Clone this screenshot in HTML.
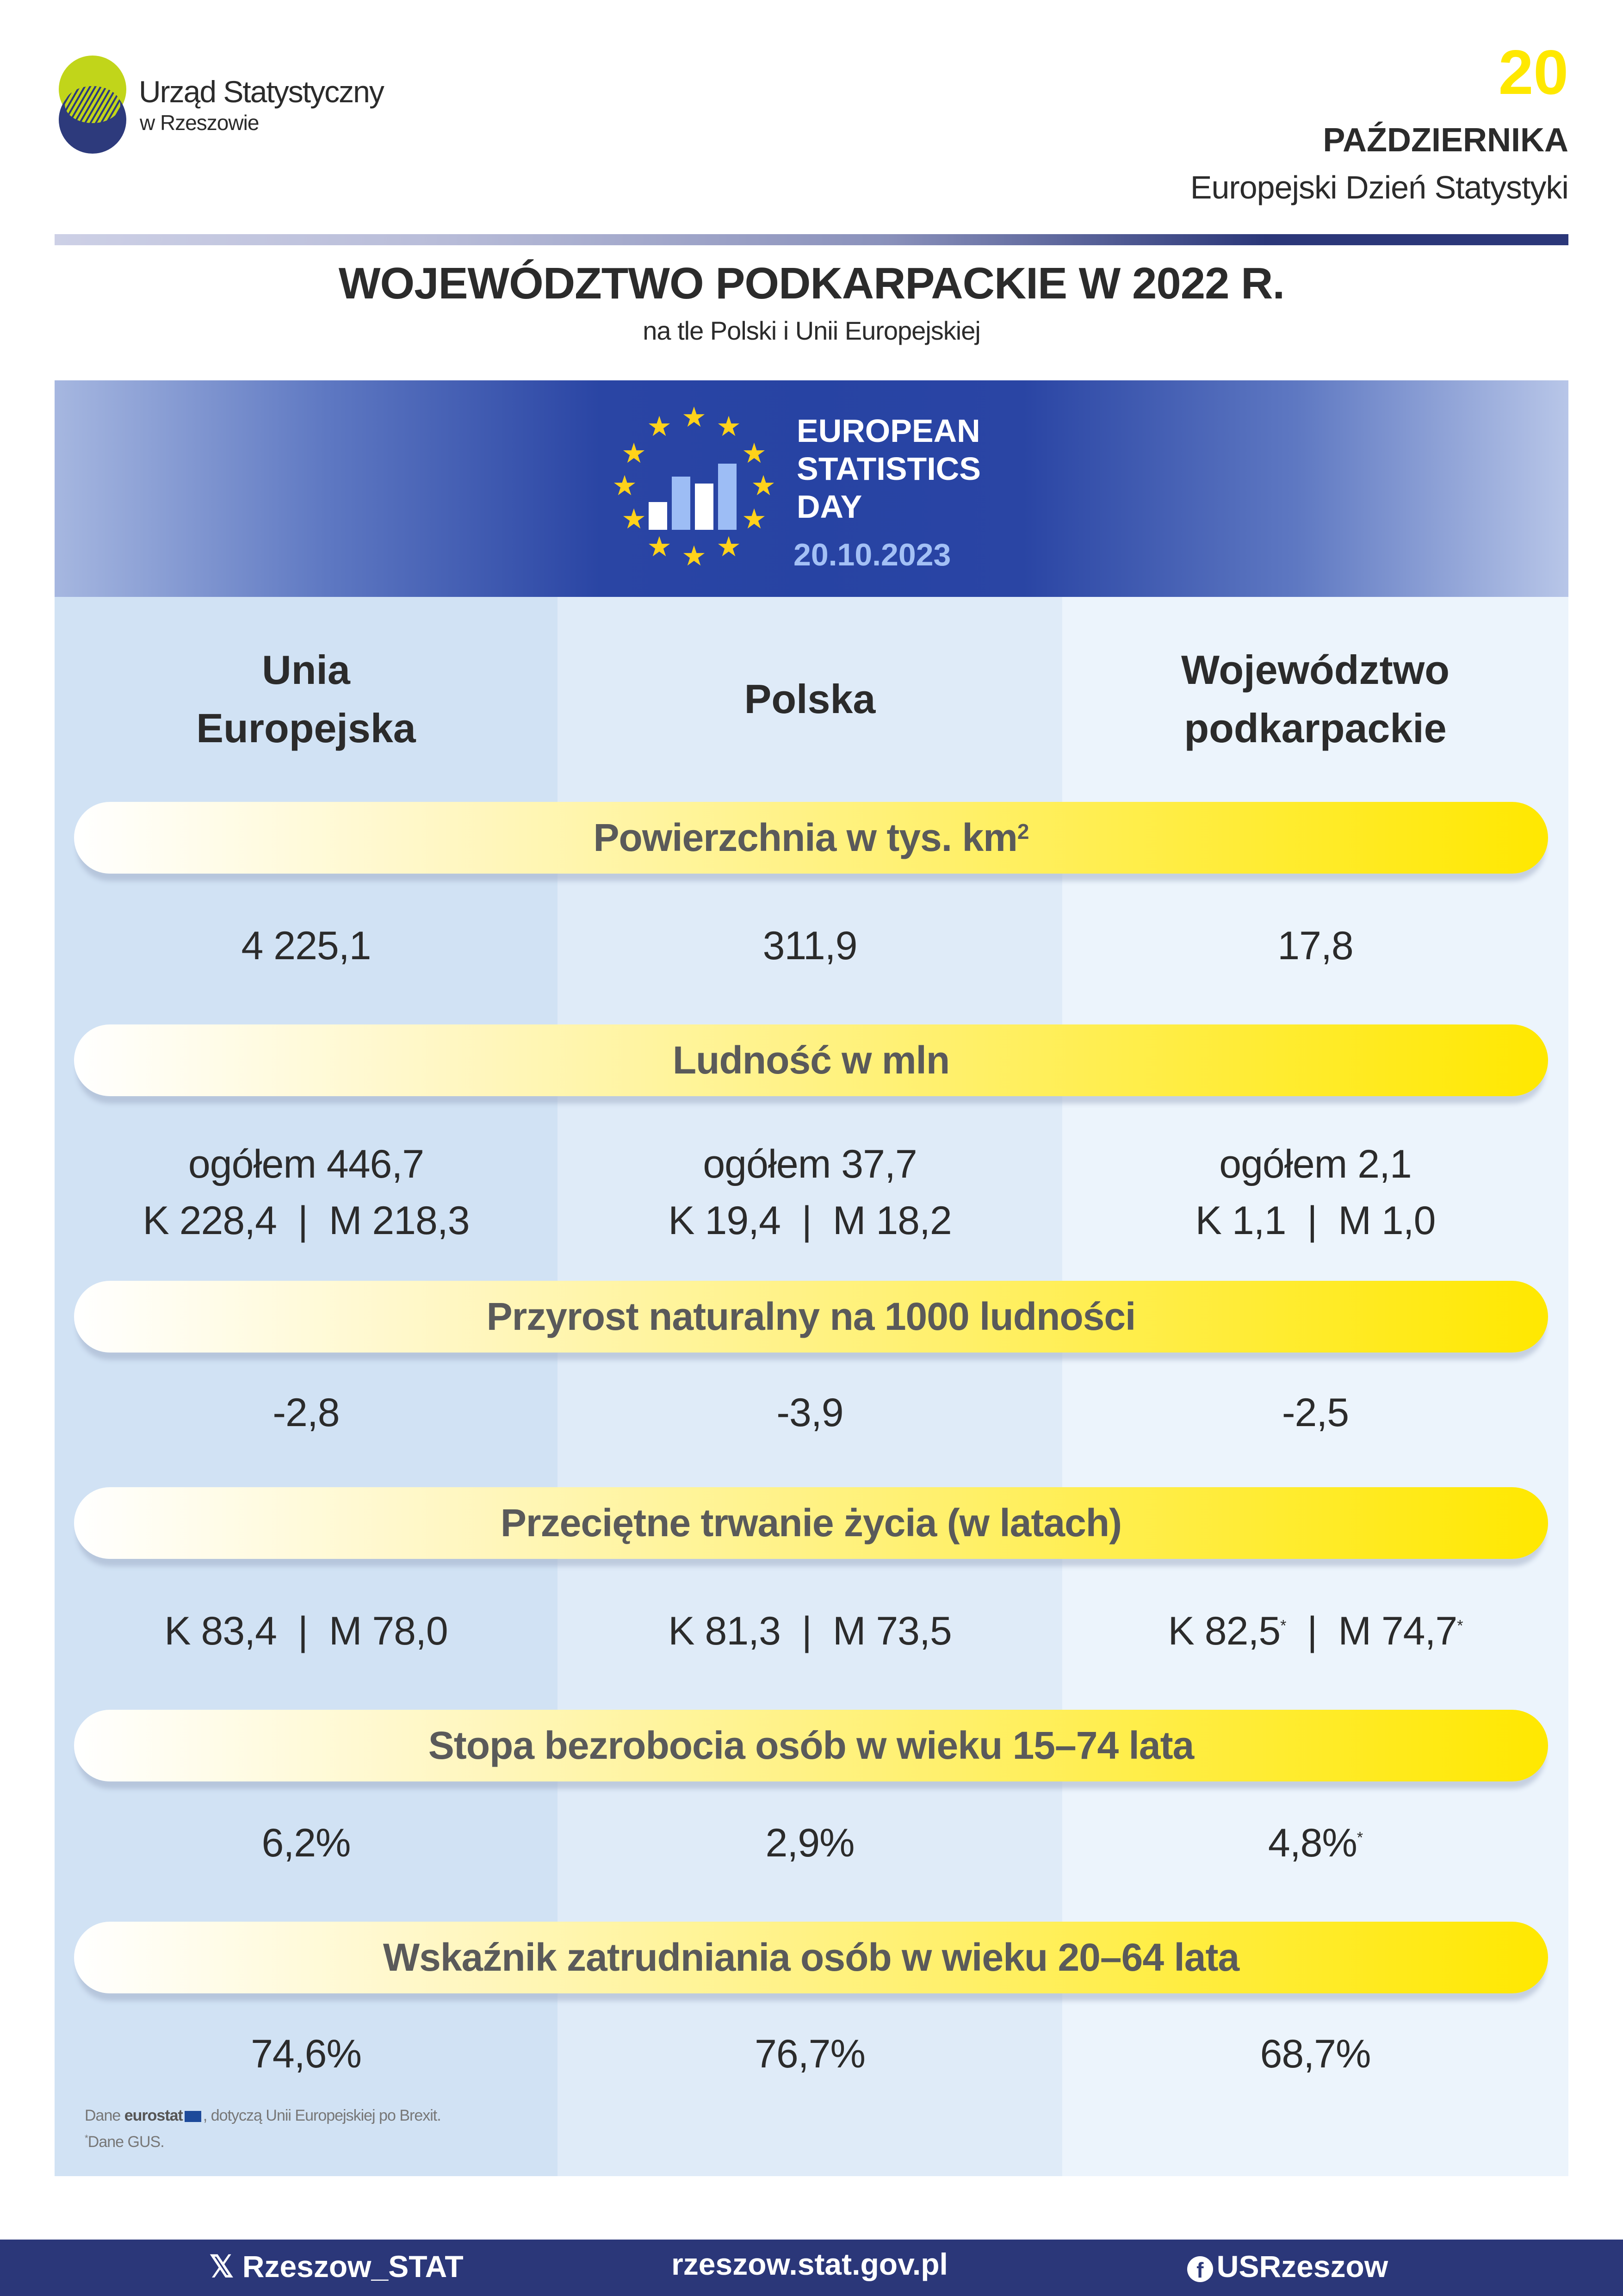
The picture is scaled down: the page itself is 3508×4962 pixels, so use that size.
<!DOCTYPE html>
<html><head><meta charset="utf-8"><style>
*{margin:0;padding:0;box-sizing:border-box}
body{width:3508px;height:4962px;position:relative;background:#fff;font-family:"Liberation Sans",sans-serif;color:#2b2b2b;overflow:hidden}
.a{position:absolute}
.c{position:absolute;text-align:center;white-space:nowrap}
.bar{position:absolute;left:160px;width:3186px;height:155px;border-radius:78px;background:linear-gradient(90deg,#ffffff 0%,#fff7c4 25%,#fff06a 60%,#ffe800 100%);box-shadow:0 22px 10px -6px rgba(150,165,190,.45);display:flex;align-items:center;justify-content:center;font-weight:bold;font-size:84px;color:#5a5a5a;letter-spacing:-1px}
.v{font-size:86px;color:#2b2b2b;letter-spacing:-1px}
</style></head><body>
<!-- logo -->
<div class="a" style="left:127px;top:120px;width:146px;height:146px;border-radius:50%;background:#c1d51a"></div>
<div class="a" style="left:127px;top:186px;width:146px;height:146px;border-radius:50%;background:#2d3a7c"></div>
<div class="a" style="left:140px;top:186px;width:120px;height:80px;border-radius:50%;background:repeating-linear-gradient(120deg,#c1d51a 0 6px,#2d3a7c 6px 10px)"></div>
<div class="a" style="left:300px;top:160px;font-size:66px;color:#2b2b2b;letter-spacing:-2px">Urząd Statystyczny</div>
<div class="a" style="left:302px;top:238px;font-size:46px;color:#2b2b2b;letter-spacing:-1px">w Rzeszowie</div>
<div class="a" style="right:118px;top:88px;font-size:136px;font-weight:bold;color:#ffe800;line-height:1">20</div>
<div class="a" style="right:118px;top:262px;font-size:72px;font-weight:bold;color:#2b2b2b">PAŹDZIERNIKA</div>
<div class="a" style="right:118px;top:365px;font-size:70px;color:#2b2b2b;letter-spacing:-1px">Europejski Dzień Statystyki</div>
<div class="a" style="left:118px;top:506px;width:3272px;height:24px;background:linear-gradient(90deg,#cdd0e6 0%,#b9bdd9 25%,#8a91bb 55%,#2b3779 80%,#2b3779 100%)"></div>
<div class="c" style="left:0;width:3508px;top:558px;font-size:96px;font-weight:bold;color:#2b2b2b;letter-spacing:-1px">WOJEWÓDZTWO PODKARPACKIE W 2022 R.</div>
<div class="c" style="left:0;width:3508px;top:682px;font-size:56px;color:#2b2b2b;letter-spacing:-1px">na tle Polski i Unii Europejskiej</div>
<!-- banner -->
<div class="a" style="left:118px;top:822px;width:3272px;height:470px;background:linear-gradient(90deg,#a6b7e0 0%,#5e78c2 18%,#2a45a4 36%,#2743a3 50%,#2a45a4 64%,#5e78c2 82%,#b8c6e8 100%)"></div>
<svg class="a" style="left:1310px;top:870px" width="380" height="370" viewBox="0 0 380 370">
<g fill="#ffd21a">
<text x="190" y="52" font-size="60" text-anchor="middle">★</text>
<text x="115" y="72" font-size="60" text-anchor="middle">★</text>
<text x="265" y="72" font-size="60" text-anchor="middle">★</text>
<text x="60" y="130" font-size="60" text-anchor="middle">★</text>
<text x="320" y="130" font-size="60" text-anchor="middle">★</text>
<text x="40" y="200" font-size="60" text-anchor="middle">★</text>
<text x="340" y="200" font-size="60" text-anchor="middle">★</text>
<text x="60" y="272" font-size="60" text-anchor="middle">★</text>
<text x="320" y="272" font-size="60" text-anchor="middle">★</text>
<text x="115" y="332" font-size="60" text-anchor="middle">★</text>
<text x="265" y="332" font-size="60" text-anchor="middle">★</text>
<text x="190" y="352" font-size="60" text-anchor="middle">★</text>
</g>
<rect x="92" y="215" width="40" height="60" fill="#fff"/>
<rect x="142" y="160" width="40" height="115" fill="#9dbdf5"/>
<rect x="192" y="175" width="40" height="100" fill="#fff"/>
<rect x="242" y="132" width="40" height="143" fill="#9dbdf5"/>
</svg>
<div class="a" style="left:1722px;top:890px;font-size:70px;font-weight:bold;color:#fff;line-height:82px">EUROPEAN<br>STATISTICS<br>DAY</div>
<div class="a" style="left:1715px;top:1160px;font-size:68px;font-weight:bold;color:#a3c0f5">20.10.2023</div>
<!-- columns -->
<div class="a" style="left:118px;top:1290px;width:1087px;height:3413px;background:#d1e2f4"></div>
<div class="a" style="left:1205px;top:1290px;width:1091px;height:3413px;background:#dfebf8"></div>
<div class="a" style="left:2296px;top:1290px;width:1094px;height:3413px;background:#ecf4fc"></div>
<div class="c" style="left:118px;width:1087px;top:1385px;font-size:88px;font-weight:bold;line-height:126px">Unia<br>Europejska</div>
<div class="c" style="left:1205px;width:1091px;top:1448px;font-size:88px;font-weight:bold;line-height:126px">Polska</div>
<div class="c" style="left:2296px;width:1094px;top:1385px;font-size:88px;font-weight:bold;line-height:126px">Województwo<br>podkarpackie</div>
<!-- bars -->
<div class="bar" style="top:1733px">Powierzchnia w tys. km<sup style="font-size:46px;position:relative;top:-14px">2</sup></div>
<div class="bar" style="top:2214px">Ludność w mln</div>
<div class="bar" style="top:2768px">Przyrost naturalny na 1000 ludności</div>
<div class="bar" style="top:3214px">Przeciętne trwanie życia (w latach)</div>
<div class="bar" style="top:3695px">Stopa bezrobocia osób w wieku 15–74 lata</div>
<div class="bar" style="top:4153px">Wskaźnik zatrudniania osób w wieku 20–64 lata</div>
<!-- values -->
<div class="c v" style="left:118px;width:1087px;top:1995px">4 225,1</div>
<div class="c v" style="left:1205px;width:1091px;top:1995px">311,9</div>
<div class="c v" style="left:2296px;width:1094px;top:1995px">17,8</div>

<div class="c v" style="left:118px;width:1087px;top:2455px;line-height:122px">ogółem 446,7<br>K 228,4 &nbsp;|&nbsp; M 218,3</div>
<div class="c v" style="left:1205px;width:1091px;top:2455px;line-height:122px">ogółem 37,7<br>K 19,4 &nbsp;|&nbsp; M 18,2</div>
<div class="c v" style="left:2296px;width:1094px;top:2455px;line-height:122px">ogółem 2,1<br>K 1,1 &nbsp;|&nbsp; M 1,0</div>

<div class="c v" style="left:118px;width:1087px;top:3004px">-2,8</div>
<div class="c v" style="left:1205px;width:1091px;top:3004px">-3,9</div>
<div class="c v" style="left:2296px;width:1094px;top:3004px">-2,5</div>

<div class="c v" style="left:118px;width:1087px;top:3476px">K 83,4 &nbsp;|&nbsp; M 78,0</div>
<div class="c v" style="left:1205px;width:1091px;top:3476px">K 81,3 &nbsp;|&nbsp; M 73,5</div>
<div class="c v" style="left:2296px;width:1094px;top:3476px">K 82,5<sup style="font-size:34px">*</sup> &nbsp;|&nbsp; M 74,7<sup style="font-size:34px">*</sup></div>

<div class="c v" style="left:118px;width:1087px;top:3934px">6,2%</div>
<div class="c v" style="left:1205px;width:1091px;top:3934px">2,9%</div>
<div class="c v" style="left:2296px;width:1094px;top:3934px">4,8%<sup style="font-size:34px">*</sup></div>

<div class="c v" style="left:118px;width:1087px;top:4390px">74,6%</div>
<div class="c v" style="left:1205px;width:1091px;top:4390px">76,7%</div>
<div class="c v" style="left:2296px;width:1094px;top:4390px">68,7%</div>

<div class="a" style="left:183px;top:4553px;font-size:34px;color:#777;letter-spacing:-1px">Dane <b style="color:#555">eurostat</b><span style="display:inline-block;width:36px;height:24px;background:#1d4a9a;vertical-align:middle;margin:0 4px"></span>, dotyczą Unii Europejskiej po Brexit.</div>
<div class="a" style="left:183px;top:4610px;font-size:34px;color:#777;letter-spacing:-1px"><sup style="font-size:20px">*</sup>Dane GUS.</div>
<!-- footer -->
<div class="a" style="left:0;top:4840px;width:3508px;height:122px;background:#2b3779"></div>
<div class="c" style="left:427px;width:600px;top:4860px;font-size:66px;font-weight:bold;color:#fff">𝕏 Rzeszow_STAT</div>
<div class="c" style="left:1350px;width:800px;top:4855px;font-size:66px;font-weight:bold;color:#fff">rzeszow.stat.gov.pl</div>
<div class="c" style="left:2483px;width:600px;top:4860px;font-size:66px;font-weight:bold;color:#fff"><span style="display:inline-block;width:56px;height:56px;border-radius:50%;background:#fff;color:#2b3779;font-size:46px;line-height:60px;vertical-align:middle;margin-right:8px">f</span>USRzeszow</div>
</body></html>
